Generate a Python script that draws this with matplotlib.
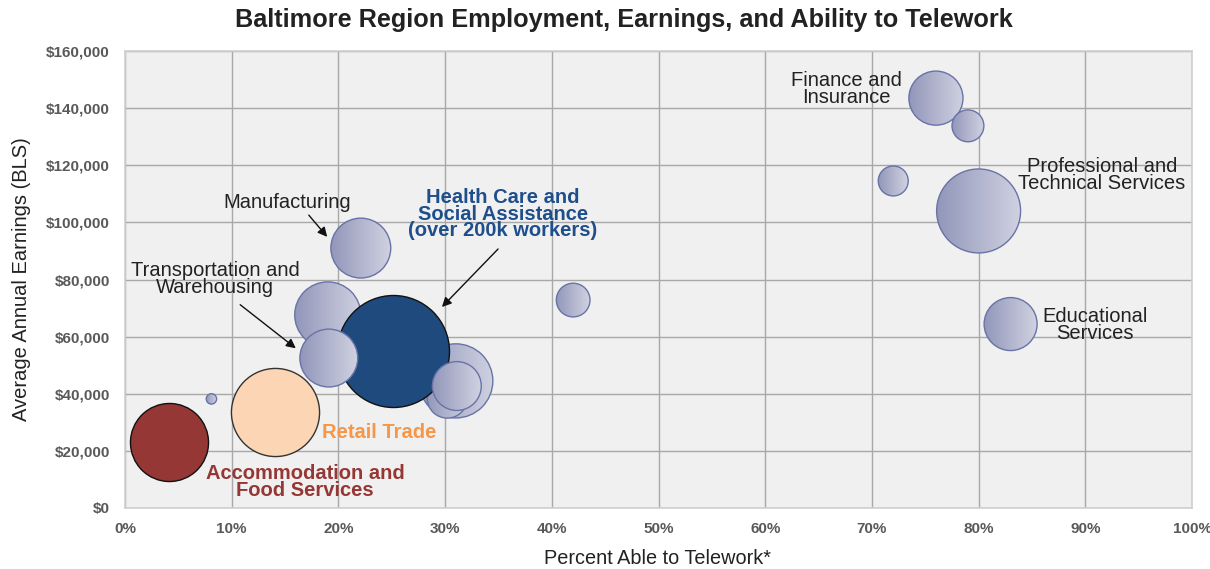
import numpy as np
import matplotlib
matplotlib.use("Agg")
import matplotlib.pyplot as plt
from matplotlib.patches import Circle
from matplotlib.transforms import IdentityTransform
from matplotlib.ticker import FuncFormatter, MultipleLocator
from matplotlib.colors import LinearSegmentedColormap

plt.rcParams['font.family'] = ['Liberation Sans', 'DejaVu Sans']

# ---- data (draw order) ----
industries = ["Other A (19%)", "Other B (31%)", "Other C (30%)", "Health Care and Social Assistance",
              "Transportation and Warehousing", "Other D (31%)", "Accommodation and Food Services",
              "Other E (8%)", "Retail Trade", "Manufacturing", "Other F (42%)",
              "Finance and Insurance", "Other G (79%)", "Other H (72%)",
              "Professional and Technical Services", "Educational Services"]
telework_pct = [19.0, 31.0, 30.2, 25.1, 19.1, 31.1, 4.1, 8.1, 14.1, 22.1, 42.0,
                76.0, 79.0, 72.0, 80.0, 83.0]
earnings = [67600, 44500, 38500, 55000, 52500, 42700, 23100, 38200, 33600, 91000, 72800,
            143500, 133800, 114500, 104000, 64400]
employment = [73000, 92000, 27000, 210000, 56000, 40000, 102000, 1800, 130000, 60000, 19000,
              49000, 17000, 15000, 118000, 47000]
styles = ["grad", "grad", "grad", "health", "grad", "grad", "accom", "grad", "retail", "grad", "grad",
          "grad", "grad", "grad", "grad", "grad"]

DPI = 100
fig = plt.figure(figsize=(12.10, 5.69), dpi=DPI)
ax = fig.add_axes([125 / 1210, 61 / 569, 1067 / 1210, 457 / 569])
ax.set_facecolor('#f0f0f0')
ax.set_xlim(0, 100)
ax.set_ylim(0, 160000)
ax.xaxis.set_major_locator(MultipleLocator(10))
ax.yaxis.set_major_locator(MultipleLocator(20000))
ax.grid(True, color='#a8a8a8', linewidth=1.0)
ax.set_axisbelow(True)
for sp in ax.spines.values():
    sp.set_color('#d0d0d0')
    sp.set_linewidth(1.2)
ax.tick_params(axis='x', length=0, pad=10)
ax.tick_params(axis='y', length=0, pad=11)
ax.xaxis.set_major_formatter(FuncFormatter(lambda v, p: f"{int(v)}%"))
ax.yaxis.set_major_formatter(FuncFormatter(lambda v, p: f"${int(v):,}"))
for lab in ax.get_xticklabels() + ax.get_yticklabels():
    lab.set_fontweight('bold')
    lab.set_fontsize(11)
    lab.set_color('#595959')

K = (2 * 56 * 72 / DPI) ** 2 / 210000.0
sizes = [e * K for e in employment]

grad = np.linspace(0, 1, 256).reshape(1, -1)
gcmap = LinearSegmentedColormap.from_list('g', ['#9297ba', '#d0d2e1'])

for i, (x, y, s, st) in enumerate(zip(telework_pct, earnings, sizes, styles)):
    z = 3 + i
    if st == 'grad':
        xd, yd = ax.transData.transform((x, y))
        r = np.sqrt(s) / 2 * DPI / 72
        (x0, y0) = ax.transData.inverted().transform((xd - r, yd - r))
        (x1, y1) = ax.transData.inverted().transform((xd + r, yd + r))
        im = ax.imshow(grad, extent=[x0, x1, y0, y1], cmap=gcmap, aspect='auto',
                       interpolation='bilinear', zorder=z, origin='lower')
        clip = Circle((xd, yd), r, transform=IdentityTransform())
        im.set_clip_path(clip)
        ax.scatter([x], [y], s=[s], facecolors='none', edgecolors='#6873a6',
                   linewidths=1.0, zorder=z + 0.5)
    elif st == 'health':
        ax.scatter([x], [y], s=[s], facecolors='#1f4a7e', edgecolors='#111111',
                   linewidths=1.0, zorder=z)
    elif st == 'accom':
        ax.scatter([x], [y], s=[s], facecolors='#953735', edgecolors='#111111',
                   linewidths=1.0, zorder=z)
    elif st == 'retail':
        ax.scatter([x], [y], s=[s], facecolors='#fcd5b4', edgecolors='#333333',
                   linewidths=1.0, zorder=z)
ax.set_xlim(0, 100)
ax.set_ylim(0, 160000)

def px(xp, yp):
    return ((xp - 125) / 1067, (508 - yp) / 457)

FS = 14.5
txt_kw = dict(ha='center', va='center', fontsize=FS, color='#222222',
              linespacing=0.82, transform=ax.transAxes, zorder=30)
ax.text(*px(846, 89), "Finance and\nInsurance", **txt_kw)
ax.text(*px(1102, 175), "Professional and\nTechnical Services", **txt_kw)
ax.text(*px(1095, 325), "Educational\nServices", **txt_kw)
ax.text(*px(287, 203), "Manufacturing", **txt_kw)
ax.text(*px(215, 279), "Transportation and\nWarehousing", **txt_kw)

bold_kw = dict(ha='center', va='center', fontsize=FS, fontweight='bold',
               linespacing=0.82, transform=ax.transAxes, zorder=30)
ax.text(*px(503, 214), "Health Care and\nSocial Assistance\n(over 200k workers)",
        color='#1f4e8c', **bold_kw)
ax.text(*px(379, 433), "Retail Trade", color='#f79646', **bold_kw)
ax.text(*px(305, 482), "Accommodation and\nFood Services", color='#953735', **bold_kw)

arrow_kw = dict(arrowstyle='-|>', color='#111111', lw=1.0, mutation_scale=14)
def arrow(p0, p1):
    ax.annotate("", xy=px(*p1), xytext=px(*p0), xycoords='axes fraction',
                textcoords='axes fraction', arrowprops=arrow_kw, zorder=31)
arrow((307, 213), (329, 239))
arrow((238, 303), (298, 350))
arrow((500, 247), (440, 309))

ax.set_xlabel("Percent Able to Telework*", fontsize=14.3, color='#222222', va='center')
ax.xaxis.set_label_coords(*px(657, 558))
ax.set_ylabel("Average Annual Earnings (BLS)", fontsize=14.5, color='#222222', va='center')
ax.yaxis.set_label_coords(*px(22, 279))
fig.text(624 / 1210, 1 - 20 / 569, "Baltimore Region Employment, Earnings, and Ability to Telework",
         ha='center', va='center', fontsize=18.2, fontweight='bold', color='#222222')

fig.savefig("out.png", dpi=DPI, facecolor='white')
